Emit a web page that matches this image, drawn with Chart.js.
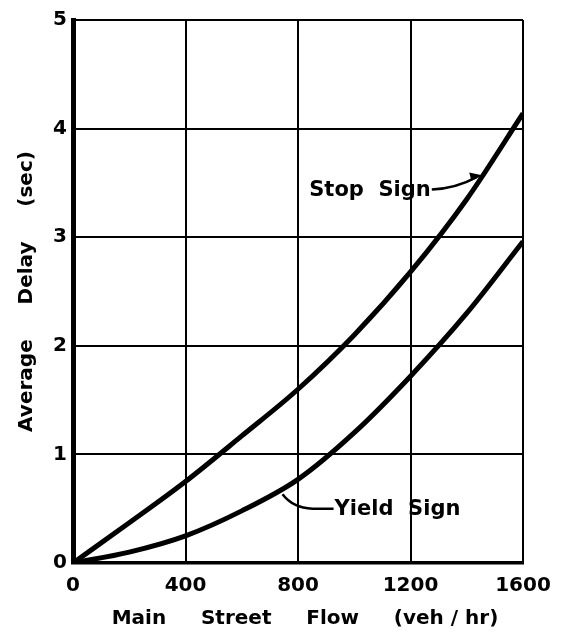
<!DOCTYPE html>
<html>
<head>
<meta charset="utf-8">
<script src="https://cdn.jsdelivr.net/npm/chart.js@4"></script>
<style>
  html, body { margin: 0; padding: 0; background: #fff; }
  #wrap { width: 562px; height: 631px; }
</style>
</head>
<body>
<div id="wrap"><canvas id="chart"></canvas></div>
<script>
// main street flow (veh/hr)
const flow = [0, 200, 400, 600, 800, 1000, 1200, 1400, 1600];
// average delay (sec)
const stopSign = [0, 0.37, 0.75, 1.17, 1.6, 2.1, 2.68, 3.35, 4.14];
const yieldSign = [0, 0.1, 0.25, 0.48, 0.77, 1.2, 1.72, 2.3, 2.96];
const xTicks = [0, 400, 800, 1200, 1600];
const yTicks = [0, 1, 2, 3, 4, 5];

const FONT = '"DejaVu Sans", sans-serif';

function pts(ys) {
  return flow.map((x, i) => ({ x: x, y: ys[i] }));
}

// curve labels with leader lines
const curveLabels = {
  id: 'curveLabels',
  afterDatasetsDraw(chart) {
    const ctx = chart.ctx;
    const xs = chart.scales.x, ys = chart.scales.y;
    ctx.save();
    ctx.fillStyle = '#000';
    ctx.strokeStyle = '#000';
    ctx.font = 'bold 21px ' + FONT;
    ctx.textBaseline = 'middle';
    ctx.textAlign = 'left';

    // Stop Sign
    let tx = xs.getPixelForValue(840), ty = ys.getPixelForValue(3.43);
    ctx.fillText('Stop  Sign', tx, ty);
    let w = ctx.measureText('Stop  Sign').width;
    let ex = xs.getPixelForValue(1455), ey = ys.getPixelForValue(3.56);
    ctx.lineWidth = 2.5;
    ctx.beginPath();
    ctx.moveTo(tx + w + 1, ty - 1);
    ctx.quadraticCurveTo(tx + w + 25, ty - 2, ex - 6, ey + 1);
    ctx.stroke();
    ctx.beginPath();
    ctx.moveTo(ex + 1, ey - 1);
    ctx.lineTo(ex - 13, ey - 4);
    ctx.lineTo(ex - 11, ey + 4);
    ctx.closePath();
    ctx.fill();

    // Yield Sign
    tx = xs.getPixelForValue(930); ty = ys.getPixelForValue(0.49);
    ctx.fillText('Yield  Sign', tx, ty);
    ex = xs.getPixelForValue(738); ey = ys.getPixelForValue(0.66);
    ctx.beginPath();
    ctx.moveTo(tx - 1, ty - 1);
    ctx.lineTo(tx - 22, ty - 1);
    ctx.quadraticCurveTo(ex + 12, ty - 2, ex + 2, ey + 3);
    ctx.stroke();
    ctx.restore();
  }
};

new Chart(document.getElementById('chart'), {
  type: 'scatter',
  data: {
    datasets: [
      {
        label: 'Stop Sign',
        data: pts(stopSign),
        showLine: true,
        borderColor: '#000',
        borderWidth: 5,
        pointRadius: 0,
        cubicInterpolationMode: 'monotone'
      },
      {
        label: 'Yield Sign',
        data: pts(yieldSign),
        showLine: true,
        borderColor: '#000',
        borderWidth: 5,
        pointRadius: 0,
        cubicInterpolationMode: 'monotone'
      }
    ]
  },
  options: {
    responsive: true,
    maintainAspectRatio: false,
    animation: false,
    layout: { padding: { top: 20, right: 39, left: 0, bottom: 0 } },
    plugins: {
      legend: { display: false },
      tooltip: { enabled: false }
    },
    scales: {
      x: {
        type: 'linear',
        min: 0,
        max: 1600,
        afterBuildTicks(scale) { scale.ticks = xTicks.map(v => ({ value: v })); },
        afterFit(scale) { scale.height = 68; },
        grid: { color: '#000', lineWidth: 2, drawTicks: false },
        border: { color: '#000', width: 3.5 },
        ticks: {
          color: '#000',
          padding: 11,
          maxRotation: 0,
          callback: v => String(v),
          font: { family: FONT, size: 20, weight: 'bold' }
        },
        title: {
          display: true,
          text: '  Main     Street     Flow     (veh / hr)',
          color: '#000',
          padding: { top: 0, bottom: 0 },
          font: { family: FONT, size: 20, weight: 'bold' }
        }
      },
      y: {
        min: 0,
        max: 5,
        afterBuildTicks(scale) { scale.ticks = yTicks.map(v => ({ value: v })); },
        afterFit(scale) { scale.width = 73; },
        grid: { color: '#000', lineWidth: 2, drawTicks: false },
        border: { color: '#000', width: 5 },
        ticks: {
          color: '#000',
          padding: 6,
          callback: v => String(v),
          font: { family: FONT, size: 20, weight: 'bold' }
        },
        title: {
          display: true,
          text: 'Average     Delay     (sec)',
          color: '#000',
          padding: { top: 15, bottom: 0 },
          font: { family: FONT, size: 20, weight: 'bold' }
        }
      }
    }
  },
  plugins: [curveLabels]
});
</script>
</body>
</html>
